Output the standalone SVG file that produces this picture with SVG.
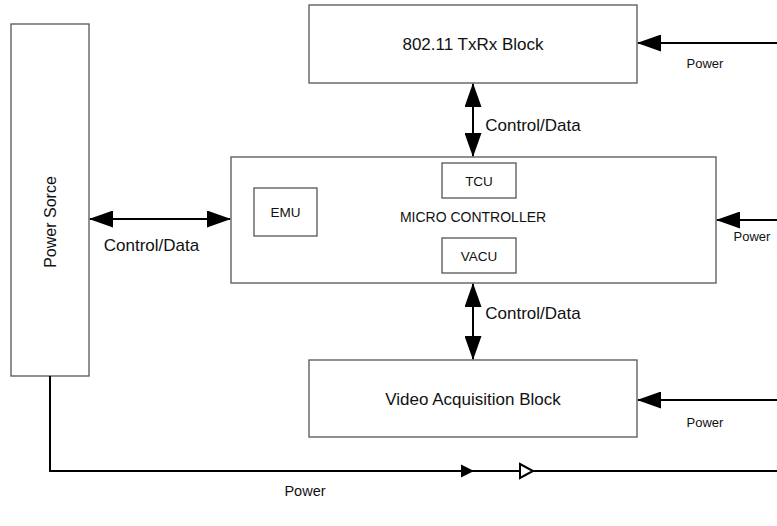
<svg xmlns="http://www.w3.org/2000/svg" width="777" height="526" viewBox="0 0 777 526">
<style>
.box{fill:#fff;stroke:#555;stroke-width:1.3}
.t{font-family:"Liberation Sans",Arial,sans-serif;fill:#111;text-anchor:middle;dominant-baseline:central}
.conn{fill:none;stroke:#000;stroke-width:2}
.lbl{font-size:17px}
.blk{font-size:17px}
.mc{font-size:14px}
.in{font-size:13.5px}
.pw{font-size:13px}
</style>
<defs>
<marker id="ah" viewBox="0 0 24 17" refX="23" refY="8.5" markerWidth="24" markerHeight="17" markerUnits="userSpaceOnUse" orient="auto-start-reverse">
<path d="M0,0 L24,8.5 L0,17 z" fill="#000"/>
</marker>
</defs>
<g id="power-source">
<rect class="box" x="11" y="24" width="78" height="352"/>
<text class="t lbl" font-size="16" transform="translate(50,222) rotate(-90)" style="font-size:16px">Power Sorce</text>
</g>
<g id="txrx">
<rect class="box" x="309" y="5" width="328" height="78"/>
<text class="t blk" x="473" y="44">802.11 TxRx Block</text>
</g>
<g id="micro">
<rect class="box" x="231" y="157" width="485" height="126"/>
<text class="t mc" x="473" y="217">MICRO CONTROLLER</text>
</g>
<g id="tcu">
<rect class="box" x="442" y="163" width="74" height="35"/>
<text class="t in" x="479" y="181">TCU</text>
</g>
<g id="vacu">
<rect class="box" x="442" y="238" width="74" height="35"/>
<text class="t in" x="479" y="256">VACU</text>
</g>
<g id="emu">
<rect class="box" x="254" y="188" width="63" height="48"/>
<text class="t in" x="285.5" y="212">EMU</text>
</g>
<g id="video">
<rect class="box" x="309" y="360" width="328" height="77"/>
<text class="t blk" x="473" y="399">Video Acquisition Block</text>
</g>
<g id="connectors">
<line class="conn" x1="473" y1="84" x2="473" y2="156" marker-start="url(#ah)" marker-end="url(#ah)"/>
<line class="conn" x1="473" y1="284" x2="473" y2="359" marker-start="url(#ah)" marker-end="url(#ah)"/>
<line class="conn" x1="90" y1="219" x2="230" y2="219" marker-start="url(#ah)" marker-end="url(#ah)"/>
<line class="conn" x1="777" y1="43" x2="638" y2="43" marker-end="url(#ah)"/>
<line class="conn" x1="777" y1="220" x2="717" y2="220" marker-end="url(#ah)"/>
<line class="conn" x1="777" y1="400" x2="638" y2="400" marker-end="url(#ah)"/>
<path class="conn" d="M50,376 V471 H777"/>
<polygon points="461,464.5 474,471 461,477.5" fill="#000"/>
<polygon points="520,464 533,471 520,478" fill="#fff" stroke="#000" stroke-width="2"/>
<text class="t lbl" x="533" y="125">Control/Data</text>
<text class="t lbl" x="533" y="313">Control/Data</text>
<text class="t lbl" x="151.5" y="245">Control/Data</text>
<text class="t pw" x="705" y="63">Power</text>
<text class="t pw" x="752" y="236">Power</text>
<text class="t pw" x="705" y="422">Power</text>
<text class="t pw" x="305" y="491" style="font-size:14.5px">Power</text>
</g>
</svg>
